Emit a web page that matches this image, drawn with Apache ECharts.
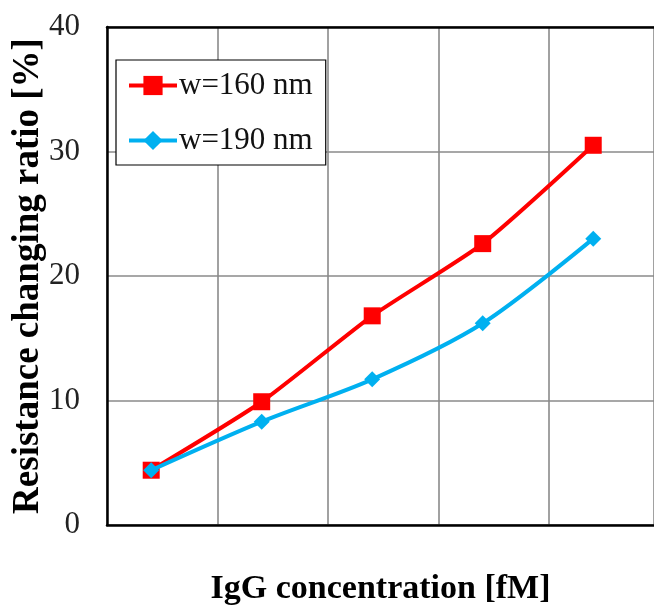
<!DOCTYPE html>
<html>
<head>
<meta charset="utf-8">
<script src="https://cdn.jsdelivr.net/npm/echarts@6/dist/echarts.min.js"></script>
<style>
  html, body { margin: 0; padding: 0; background: #fff; }
  #chart { width: 654px; height: 614px; }
</style>
</head>
<body>
<div id="chart"></div>
<script>
// Positions of the five IgG concentration steps along the (unlabelled) x axis
const concentrationSteps = [0.4, 1.4, 2.4, 3.4, 4.4];
// Resistance changing ratio [%] for each wire width
const ratioW160 = [4.4, 9.9, 16.8, 22.6, 30.5];
const ratioW190 = [4.4, 8.3, 11.7, 16.2, 23.0];
const yTicks = [0, 10, 20, 30, 40];

const serif = '"Liberation Serif", "Times New Roman", serif';

const chart = echarts.init(document.getElementById('chart'), null, { renderer: 'canvas' });

const pairs = (xs, ys) => xs.map((x, i) => [x, ys[i]]);

chart.setOption({
  animation: false,
  backgroundColor: '#ffffff',
  grid: { left: 107, right: 0, top: 27, bottom: 89, containLabel: false, outerBoundsMode: 'none' },
  legend: {
    left: 116,
    top: 60,
    orient: 'vertical',
    padding: [10, 13, 9, 11],
    itemGap: 24,
    itemWidth: 48,
    itemHeight: 24,
    backgroundColor: '#ffffff',
    borderColor: '#000000',
    borderWidth: 1.2,
    lineStyle: { width: 4 },
    textStyle: { fontFamily: serif, fontSize: 31, color: '#111', lineHeight: 30, padding: [0, 0, 0, -3] },
    data: ['w=160 nm', 'w=190 nm'],
    z: 10
  },
  xAxis: [
    {
      type: 'value',
      min: 0,
      max: 4.95,
      interval: 1,
      axisLine: { show: true, onZero: false, lineStyle: { color: '#000', width: 2.5 } },
      axisTick: { show: false },
      axisLabel: { show: false },
      splitLine: { show: true, lineStyle: { color: '#8a8a8a', width: 1.6 } },
      name: 'IgG concentration [fM]',
      nameLocation: 'middle',
      nameGap: 47,
      nameMoveOverlap: false,
      nameTextStyle: { fontFamily: serif, fontSize: 34, fontWeight: 'bold', color: '#000' }
    },
    {
      type: 'value',
      position: 'top',
      min: 0,
      max: 4.95,
      axisLine: { show: true, onZero: false, lineStyle: { color: '#000', width: 2.5 } },
      axisTick: { show: false },
      axisLabel: { show: false },
      splitLine: { show: false }
    }
  ],
  yAxis: {
    type: 'value',
    min: yTicks[0],
    max: yTicks[yTicks.length - 1],
    interval: 10,
    axisLine: { show: true, onZero: false, lineStyle: { color: '#000', width: 2.5 } },
    axisTick: { show: false },
    axisLabel: { fontFamily: serif, fontSize: 31, color: '#222', margin: 27 },
    splitLine: { show: true, lineStyle: { color: '#8a8a8a', width: 1.6 } },
    name: 'Resistance changing ratio [%]',
    nameLocation: 'middle',
    nameGap: 60,
    nameMoveOverlap: false,
    nameTextStyle: { fontFamily: serif, fontSize: 37, fontWeight: 'bold', color: '#000' }
  },
  series: [
    {
      name: 'w=160 nm',
      type: 'line',
      data: pairs(concentrationSteps, ratioW160),
      smooth: 0.2,
      symbol: 'rect',
      symbolSize: 17,
      color: '#ff0000',
      lineStyle: { color: '#ff0000', width: 4 },
      itemStyle: { color: '#ff0000' },
      z: 3
    },
    {
      name: 'w=190 nm',
      type: 'line',
      data: pairs(concentrationSteps, ratioW190),
      smooth: 0.3,
      symbol: 'diamond',
      symbolSize: 16,
      color: '#00b0f0',
      lineStyle: { color: '#00b0f0', width: 4 },
      itemStyle: { color: '#00b0f0' },
      z: 4
    }
  ]
});
</script>
</body>
</html>
